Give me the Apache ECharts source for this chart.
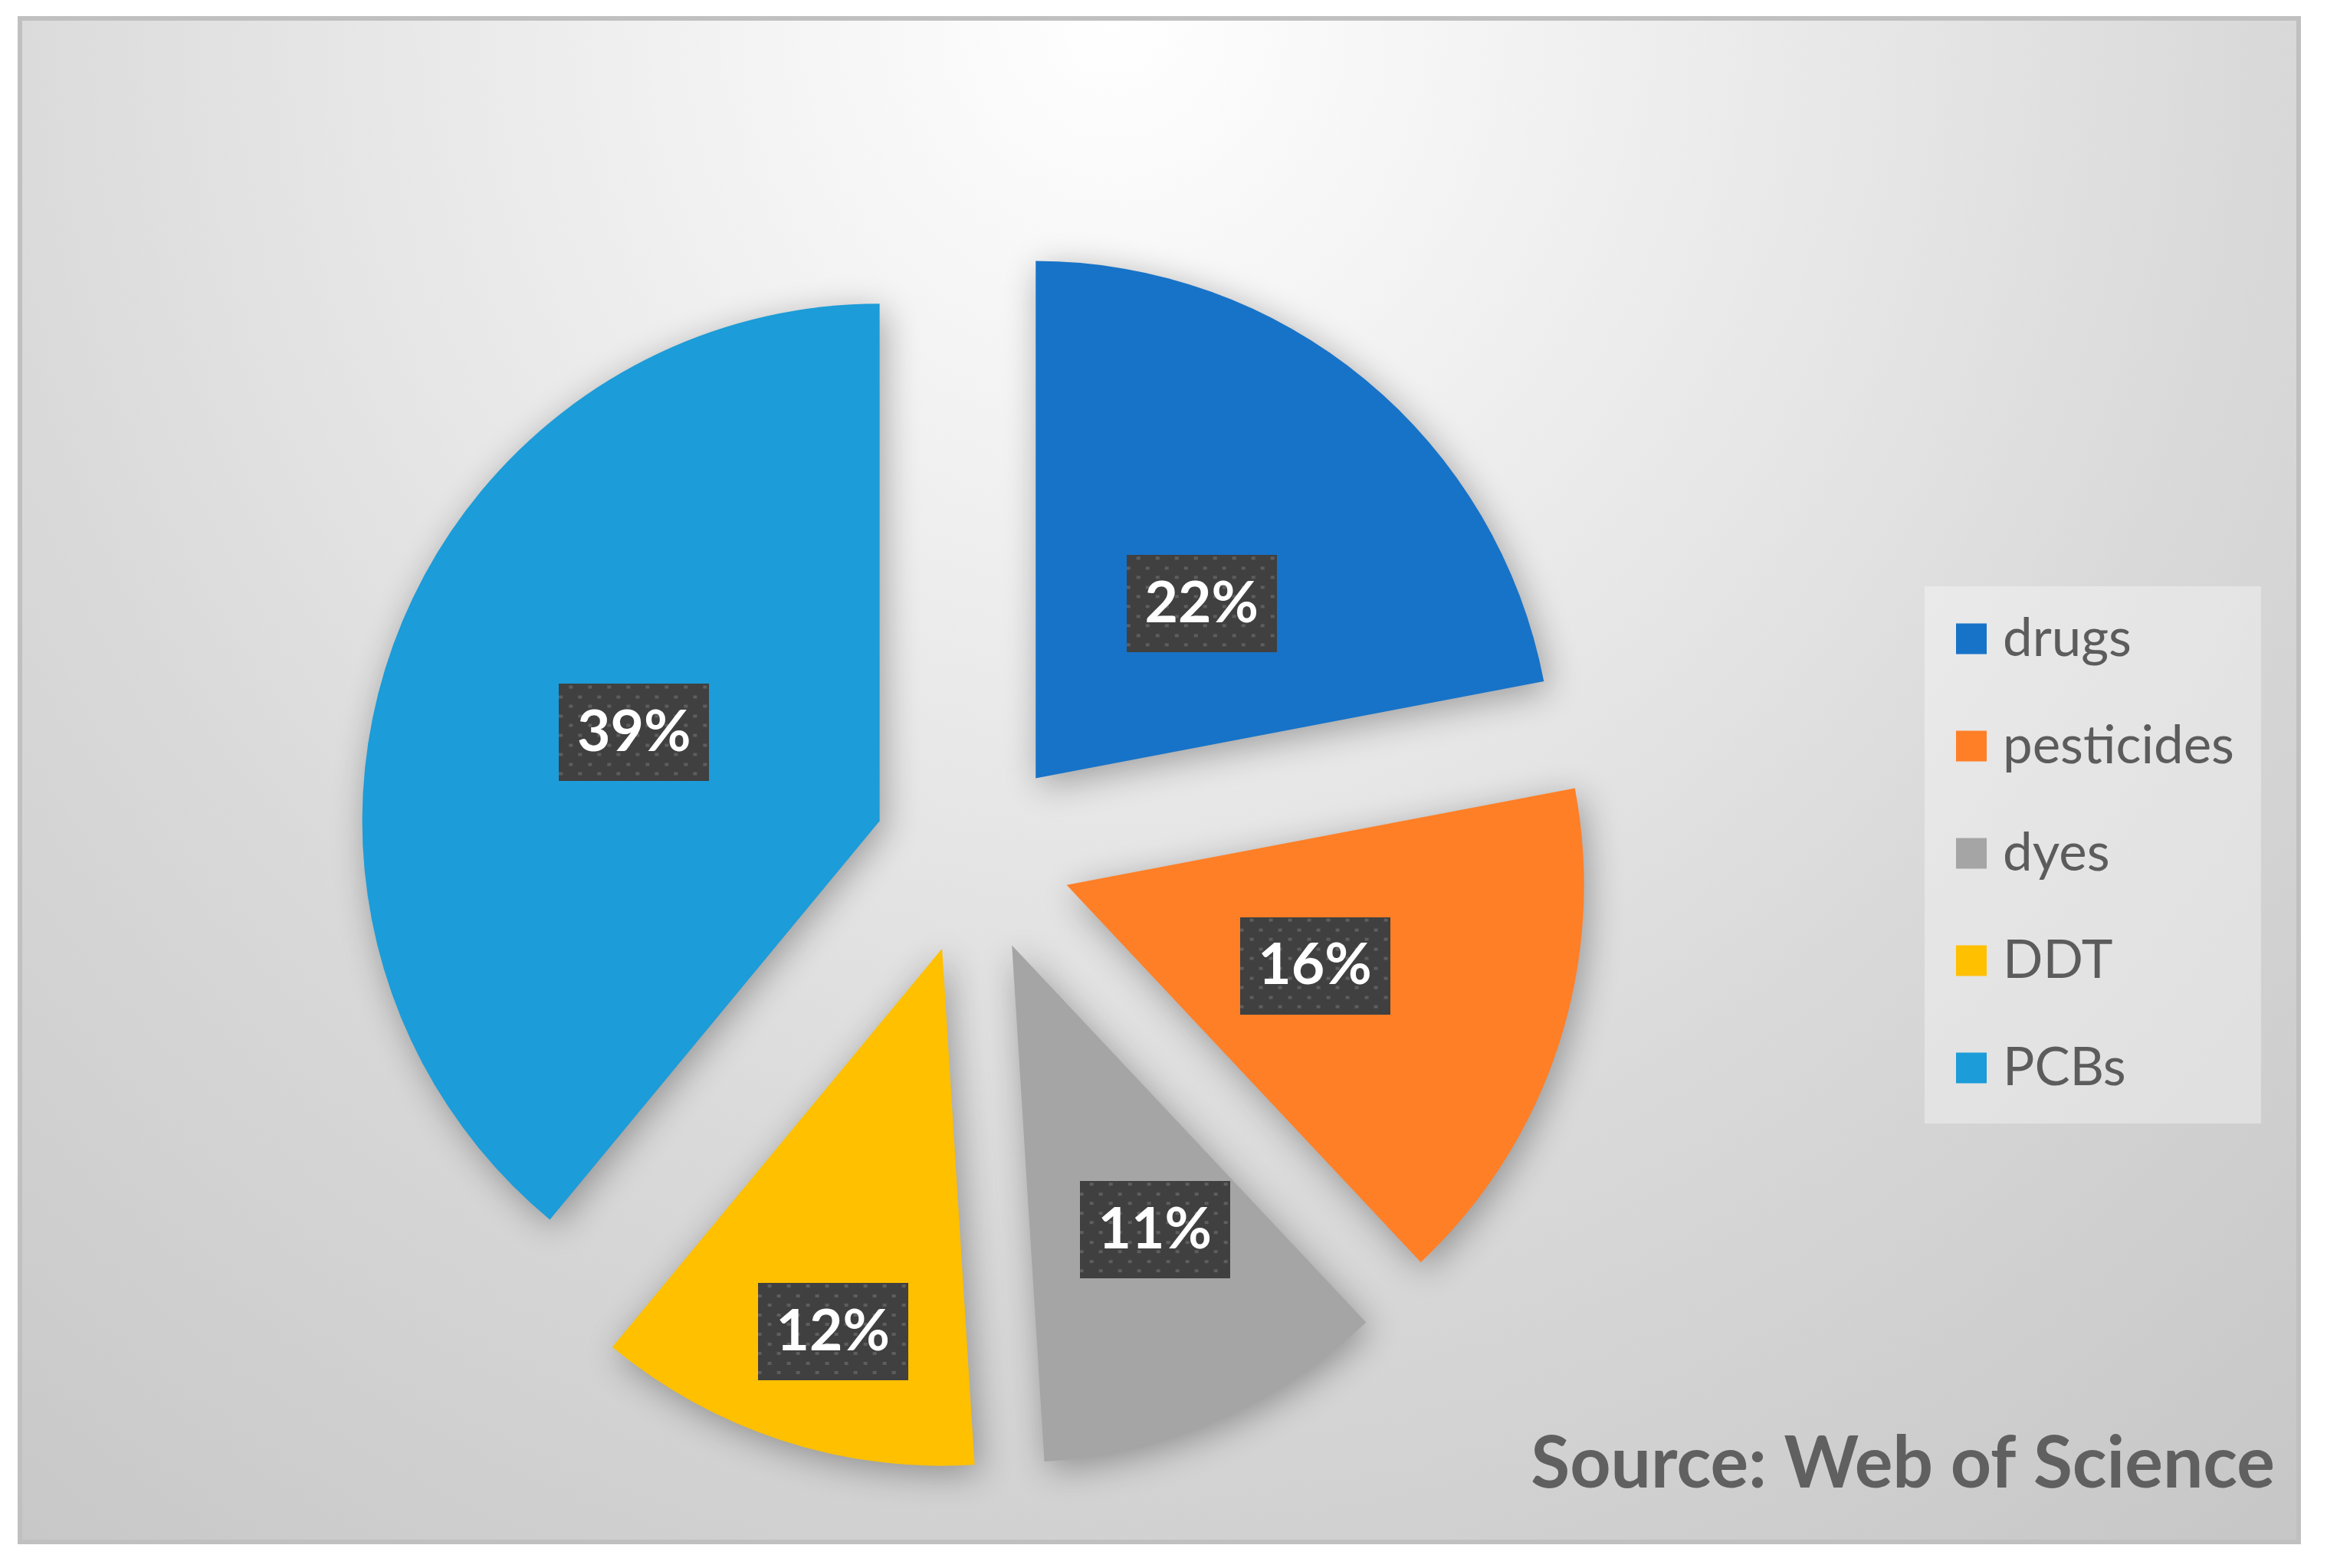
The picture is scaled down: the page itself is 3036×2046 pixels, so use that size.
<!DOCTYPE html>
<html><head><meta charset="utf-8">
<script src="https://cdn.jsdelivr.net/npm/echarts@6/dist/echarts.min.js"></script>
<style>html,body{margin:0;padding:0;background:#fff}#c{width:3036px;height:2046px}</style>
</head><body><div id="c"></div>
<script>
// ---- data ----
const categories = ['drugs', 'pesticides', 'dyes', 'DDT', 'PCBs'];
const shares = [22, 16, 11, 12, 39];
const sliceColors = ['#1773C8', '#FF7F27', '#A5A5A5', '#FFC000', '#1C9CD8'];
const sourceText = 'Source: Web of Science';

// ---- style / layout constants (label placement as fractions of the radius) ----
const labelRadialFraction = [0.46, 0.5, 0.61, 0.765, 0.5];
const labelTangentialFraction = [0.032, 0, -0.035, -0.028, 0];
const PIE_CX = 1269, PIE_CY = 1115, PIE_R = 675, EXPLODE = 129;
const FRAME = {x: 26, y: 24, w: 2973, h: 1988};

const total = shares.reduce((a, b) => a + b, 0);
const midAngles = [];
{ let acc = 0; shares.forEach(v => { midAngles.push((acc + v / 2) / total * Math.PI * 2); acc += v; }); }

function makeBackground(w, h) {
  const c = document.createElement('canvas'); c.width = w; c.height = h;
  const g = c.getContext('2d');
  const cx = w * 0.48, cy = 0, rx = 2000, ry = 2100;
  g.save();
  g.translate(cx, cy); g.scale(rx, ry);
  const grad = g.createRadialGradient(0, 0, 0, 0, 0, 1.25);
  grad.addColorStop(0, '#ffffff');
  grad.addColorStop(0.2, '#f3f3f3');
  grad.addColorStop(0.42, '#e5e5e5');
  grad.addColorStop(0.6, '#d9d9d9');
  grad.addColorStop(0.8, '#cfcfcf');
  grad.addColorStop(1, '#c5c5c5');
  g.fillStyle = grad;
  g.fillRect(-cx / rx, 0, w / rx, h / ry);
  g.restore();
  return c;
}

function makeLabelPattern(w, h) {
  const c = document.createElement('canvas'); c.width = w; c.height = h;
  const g = c.getContext('2d');
  g.fillStyle = '#404040'; g.fillRect(0, 0, w, h);
  g.fillStyle = '#5e5e5e';
  for (let row = 0; row * 12.6 < h; row++) {
    const y = Math.round(row * 12.6 + 2);
    const xo = row % 2 ? 0 : 12.5;
    for (let x = xo; x < w; x += 25) g.fillRect(Math.round(x), y, 5, 4);
  }
  return c;
}

const labelPattern = makeLabelPattern(196, 127);

const chart = echarts.init(document.getElementById('c'), null, {renderer: 'canvas'});
chart.setOption({
  animation: false,
  backgroundColor: '#ffffff',
  graphic: [
    {type: 'image', z: -20, silent: true, x: FRAME.x, y: FRAME.y,
     style: {image: makeBackground(FRAME.w, FRAME.h), width: FRAME.w, height: FRAME.h}},
    {type: 'rect', z: -19, silent: true,
     shape: {x: FRAME.x, y: FRAME.y, width: FRAME.w, height: FRAME.h},
     style: {fill: 'none', stroke: '#c0c0c0', lineWidth: 6}},
    {type: 'text', z: 50, silent: true, x: 2968, y: 1911,
     style: {text: sourceText, fill: '#606060', font: 'bold 93px Lato', align: 'right', verticalAlign: 'middle'}}
  ],
  legend: {
    orient: 'vertical', left: 2511, top: 765,
    data: categories, icon: 'rect', itemWidth: 40, itemHeight: 40, itemGap: 71,
    padding: [34, 35, 38, 41],
    backgroundColor: 'rgba(255,255,255,0.35)',
    selectedMode: false,
    textStyle: {fontFamily: 'Lato', fontSize: 69, lineHeight: 69, color: '#5c5c5c', padding: [0, 0, 0, 16]}
  },
  series: [{
    type: 'pie',
    center: [PIE_CX, PIE_CY],
    radius: PIE_R,
    startAngle: 90,
    clockwise: true,
    selectedMode: 'multiple',
    selectedOffset: EXPLODE,
    avoidLabelOverlap: false,
    emphasis: {disabled: true},
    itemStyle: {shadowBlur: 45, shadowColor: 'rgba(0,0,0,0.32)', shadowOffsetX: 6, shadowOffsetY: 10},
    label: {
      show: true, position: 'inside',
      formatter: p => p.value + '%',
      color: '#ffffff', fontFamily: 'Lato', fontWeight: 'bold', fontSize: 75, lineHeight: 72,
      width: 146, align: 'center', overflow: 'none',
      padding: [28, 25, 27, 25],
      backgroundColor: {image: labelPattern},
      shadowBlur: 16, shadowColor: 'rgba(0,0,0,0.5)', shadowOffsetX: 7, shadowOffsetY: 8
    },
    labelLine: {show: false},
    labelLayout: function (params) {
      const i = params.dataIndex;
      const a = midAngles[i];
      const dr = (labelRadialFraction[i] - 0.5) * PIE_R;
      const dt = labelTangentialFraction[i] * PIE_R;
      return {
        dx: dr * Math.sin(a) + dt * Math.cos(a),
        dy: -dr * Math.cos(a) + dt * Math.sin(a)
      };
    },
    data: categories.map((name, i) => ({
      name: name, value: shares[i], selected: true,
      itemStyle: {color: sliceColors[i]}
    }))
  }]
});
</script>
</body></html>
